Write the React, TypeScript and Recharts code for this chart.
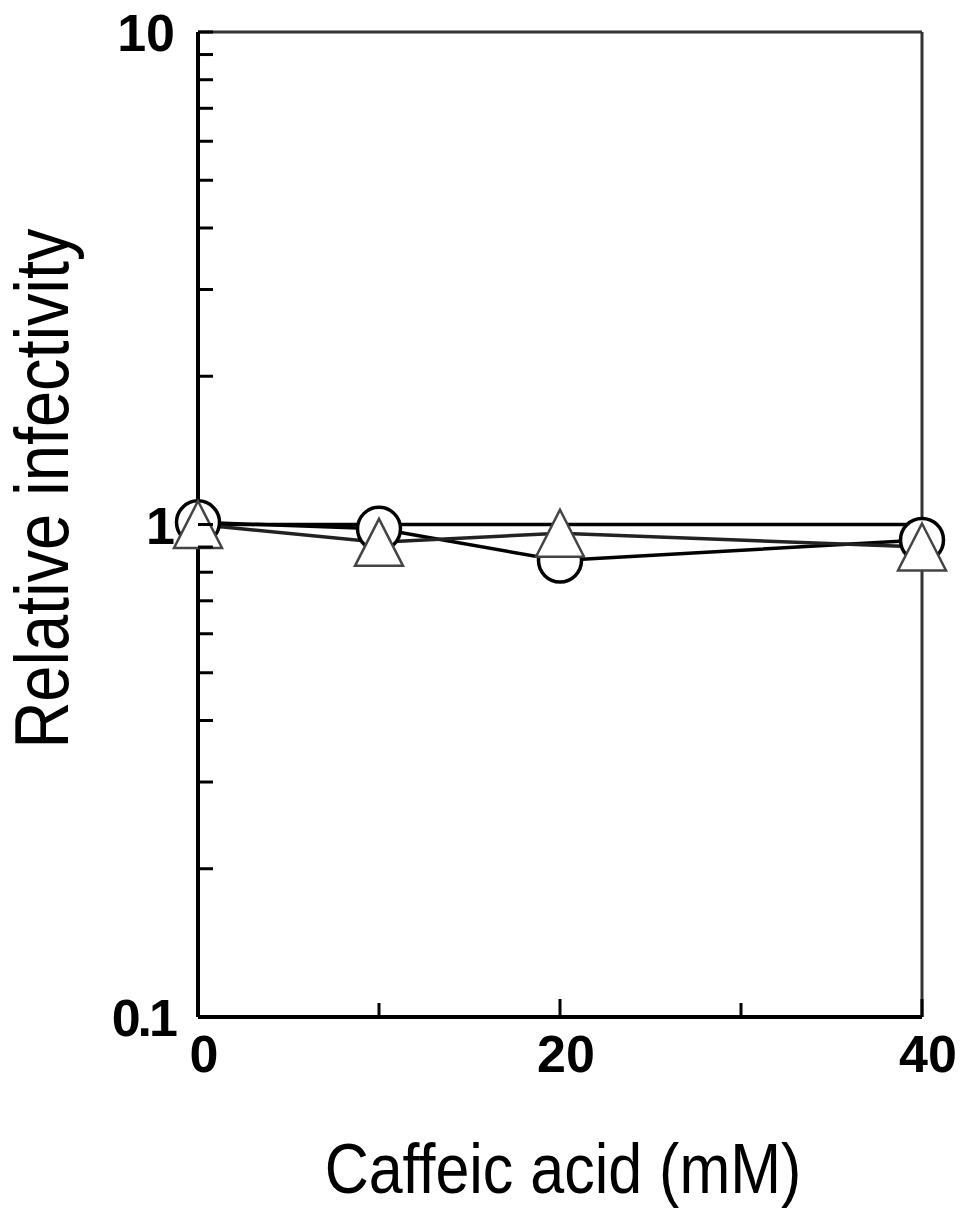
import React from 'react';
import { LineChart, Line, XAxis, YAxis, ReferenceLine } from 'recharts';

const concentrations = [0, 10, 20, 40];
const circleValues = [1.01, 0.98, 0.845, 0.93];
const triangleValues = [1.0, 0.92, 0.96, 0.9];
const controlValues = [1, 1, 1, 1];

const xTicks = [0, 10, 20, 30, 40];
const xTickLabels = ['0', '', '20', '', '40'];
const yTicks = [0.1, 0.2, 0.3, 0.4, 0.5, 0.6, 0.7, 0.8, 0.9, 1, 2, 3, 4, 5, 6, 7, 8, 9, 10];
const yLabeled = [0.1, 1, 10];

const xTitle = 'Caffeic acid (mM)';
const yTitle = 'Relative infectivity';

const data = concentrations.map((c, i) => ({
  x: c,
  circle: circleValues[i],
  triangle: triangleValues[i],
  control: controlValues[i],
}));

const FONT = '"Liberation Sans", Arial, Helvetica, sans-serif';

const YTick = (props: any) => {
  const { x, y, payload } = props;
  const v = payload.value;
  const labelled = yLabeled.some((t) => Math.abs(t - v) < 1e-9);
  return (
    <g>
      <line x1={x} y1={y} x2={x + 15} y2={y} stroke="#000" strokeWidth={3} />
      {labelled && (
        <text
          x={x - 23}
          y={y + 19}
          textAnchor="end"
          fontFamily={FONT}
          fontWeight="bold"
          fontSize={52}
          letterSpacing={v === 0.1 ? -3 : 0}
          fill="#000"
        >
          {String(v)}
        </text>
      )}
    </g>
  );
};

const XTick = (props: any) => {
  const { x, y, index } = props;
  const label = xTickLabels[index] ?? '';
  const major = label !== '';
  return (
    <g>
      <line x1={x} y1={y} x2={x} y2={y - (major ? 18 : 14)} stroke="#000" strokeWidth={3} />
      {label && (
        <text
          x={x + 6}
          y={y + 55}
          textAnchor="middle"
          fontFamily={FONT}
          fontWeight="bold"
          fontSize={52}
          fill="#000"
        >
          {label}
        </text>
      )}
    </g>
  );
};

const CircleDot = (props: any) => {
  const { cx, cy, index } = props;
  if (cx == null || cy == null) return <g key={`c-${index}`} />;
  return <circle key={`c-${index}`} cx={cx} cy={cy} r={21.5} fill="#fff" stroke="#000" strokeWidth={3.5} />;
};

const TriangleDot = (props: any) => {
  const { cx, cy, index } = props;
  if (cx == null || cy == null) return <g key={`t-${index}`} />;
  const hw = 24;
  const hh = 23.5;
  const d = `M${cx},${cy - hh} L${cx + hw},${cy + hh} L${cx - hw},${cy + hh} Z`;
  return <path key={`t-${index}`} d={d} fill="#fff" stroke="#444" strokeWidth={2.5} strokeLinejoin="miter" />;
};

const XTitle = (props: any) => {
  const vb = props.viewBox || {};
  const cx = (vb.x ?? 0) + (vb.width ?? 0) / 2;
  const by = vb.y ?? 0;
  return (
    <text
      transform={`translate(${cx + 3}, ${by + 176}) scale(1, 1.14)`}
      x={0}
      y={0}
      textAnchor="middle"
      fontFamily={FONT}
      fontSize={61}
      fill="#000"
    >
      {xTitle}
    </text>
  );
};

const YTitle = (props: any) => {
  const vb = props.viewBox || {};
  const cy = (vb.y ?? 0) + (vb.height ?? 0) / 2;
  const lx = (vb.x ?? 0) + (vb.width ?? 0);
  return (
    <text
      transform={`translate(${lx - 130}, ${cy - 36}) rotate(-90) scale(1, 1.17)`}
      x={0}
      y={0}
      textAnchor="middle"
      fontFamily={FONT}
      fontSize={65}
      fill="#000"
    >
      {yTitle}
    </text>
  );
};

export default function App() {
  return (
    <div style={{ position: 'absolute', left: 0, top: 0, width: 969, height: 1218, background: '#fff' }}>
      <LineChart
        width={969}
        height={1218}
        data={data}
        margin={{ top: 32, right: 47, bottom: 200, left: 197 }}
      >
        <XAxis
          dataKey="x"
          type="number"
          domain={[0, 40]}
          ticks={xTicks}
          height={1}
          tickSize={0}
          tickMargin={0}
          tickLine={false}
          tick={<XTick />}
          axisLine={{ stroke: '#000', strokeWidth: 4 }}
          interval={0}
          label={<XTitle />}
        />
        <YAxis
          type="number"
          scale="log"
          domain={[0.1, 10]}
          allowDataOverflow
          ticks={yTicks}
          width={1}
          tickSize={0}
          tickMargin={0}
          tickLine={false}
          tick={<YTick />}
          axisLine={{ stroke: '#000', strokeWidth: 4 }}
          interval={0}
          label={<YTitle />}
        />
        <ReferenceLine y={10} stroke="#333" strokeWidth={3} />
        <ReferenceLine x={40} stroke="#333" strokeWidth={3} />
        <Line
          dataKey="control"
          stroke="#000"
          strokeWidth={3.5}
          dot={false}
          isAnimationActive={false}
        />
        <Line
          dataKey="circle"
          stroke="#000"
          strokeWidth={3.5}
          dot={<CircleDot />}
          isAnimationActive={false}
        />
        <Line
          dataKey="triangle"
          stroke="#222"
          strokeWidth={3.5}
          dot={<TriangleDot />}
          isAnimationActive={false}
        />
      </LineChart>
    </div>
  );
}
